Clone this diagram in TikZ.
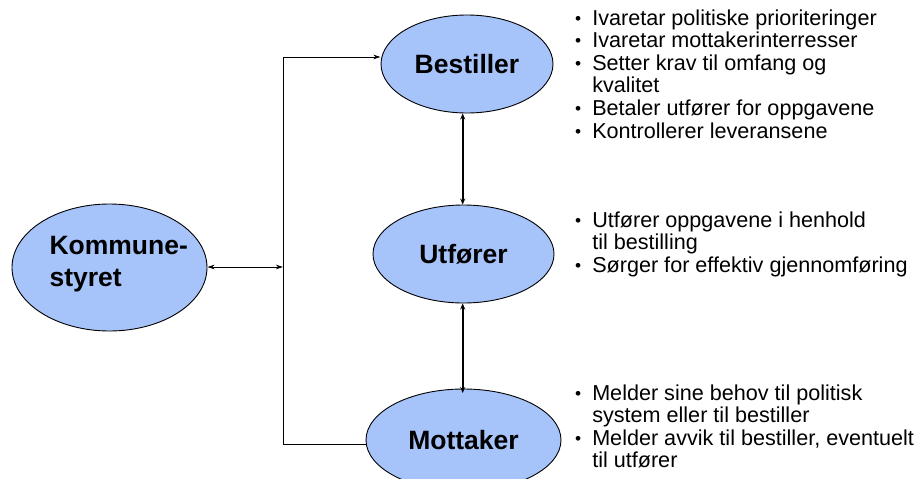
\documentclass[tikz,border=0pt]{standalone}
\usepackage{fontspec}
\setmainfont{Liberation Sans}
\usetikzlibrary{arrows.meta,shapes.geometric}
\definecolor{ellfill}{RGB}{166,195,250}
\tikzset{
  ell/.style={ellipse,draw=black,line width=0.9pt,fill=ellfill,inner sep=0pt,
    font=\fontsize{26.5}{32}\selectfont\bfseries},
  thin arrow/.style={line width=0.8pt,{Stealth[length=7pt,width=4.5pt,inset=2pt]}-{Stealth[length=7pt,width=4.5pt,inset=2pt]}},
  thick arrow/.style={line width=2pt,{Stealth[length=6pt,width=5pt]}-{Stealth[length=6pt,width=5pt]}},
  bullets/.style={anchor=north west,inner sep=0pt,font=\fontsize{21.6}{22.6}\selectfont,align=left}
}
\newcommand{\bl}{\raisebox{0.04em}{\scalebox{0.8}{\textbullet}}}
\begin{document}
\begin{tikzpicture}[x=1pt,y=-1pt]
\useasboundingbox (0,0) rectangle (921,479);
\begin{scope}
\clip (0,0) rectangle (921,479);
\node[ell,minimum width=195pt,minimum height=127pt] (k) at (109.5,267.5) {};
\node[anchor=west,font=\fontsize{26.5}{32}\selectfont\bfseries,align=left] (kt) at (46,264) {Kommune-\\styret};
\node[ell,minimum width=172pt,minimum height=98pt] (b) at (467,64) {Bestiller};
\node[ell,minimum width=181pt,minimum height=98pt] (u) at (463.5,254) {Utfører};
\node[ell,minimum width=195pt,minimum height=102pt] (m) at (463.5,440) {Mottaker};
\end{scope}
\coordinate (jt) at (283,57);
\coordinate (jm) at (283,267);
\coordinate (jb) at (283,444);
\draw[line width=0.8pt] (m.west |- jb) -- (jb) -- (jt);
\draw[line width=0.8pt,-{Stealth[length=7pt,width=4.5pt,inset=2pt]}] (jt) -- (380.5,57);
\draw[thin arrow] (k.east |- jm) -- (jm);
\draw[thick arrow] (b.south -| 462.7,0) -- (u.north -| 462.7,0);
\draw[thick arrow] (u.south -| 462.7,0) -- (462.7,393);
\node[bullets] (tb) at (575,9) {\begin{tabular}{@{}l@{\hspace{11pt}}l@{}}
\bl & Ivaretar politiske prioriteringer\\
\bl & Ivaretar mottakerinterresser\\
\bl & Setter krav til omfang og\\
 & kvalitet\\
\bl & Betaler utfører for oppgavene\\
\bl & Kontrollerer leveransene
\end{tabular}};
\node[bullets] (tu) at (575,211) {\begin{tabular}{@{}l@{\hspace{11pt}}l@{}}
\bl & Utfører oppgavene i henhold\\
 & til bestilling\\
\bl & Sørger for effektiv gjennomføring
\end{tabular}};
\node[bullets] (tm) at (575,384) {\begin{tabular}{@{}l@{\hspace{11pt}}l@{}}
\bl & Melder sine behov til politisk\\
 & system eller til bestiller\\
\bl & Melder avvik til bestiller, eventuelt\\
 & til utfører
\end{tabular}};
\end{tikzpicture}
\end{document}
